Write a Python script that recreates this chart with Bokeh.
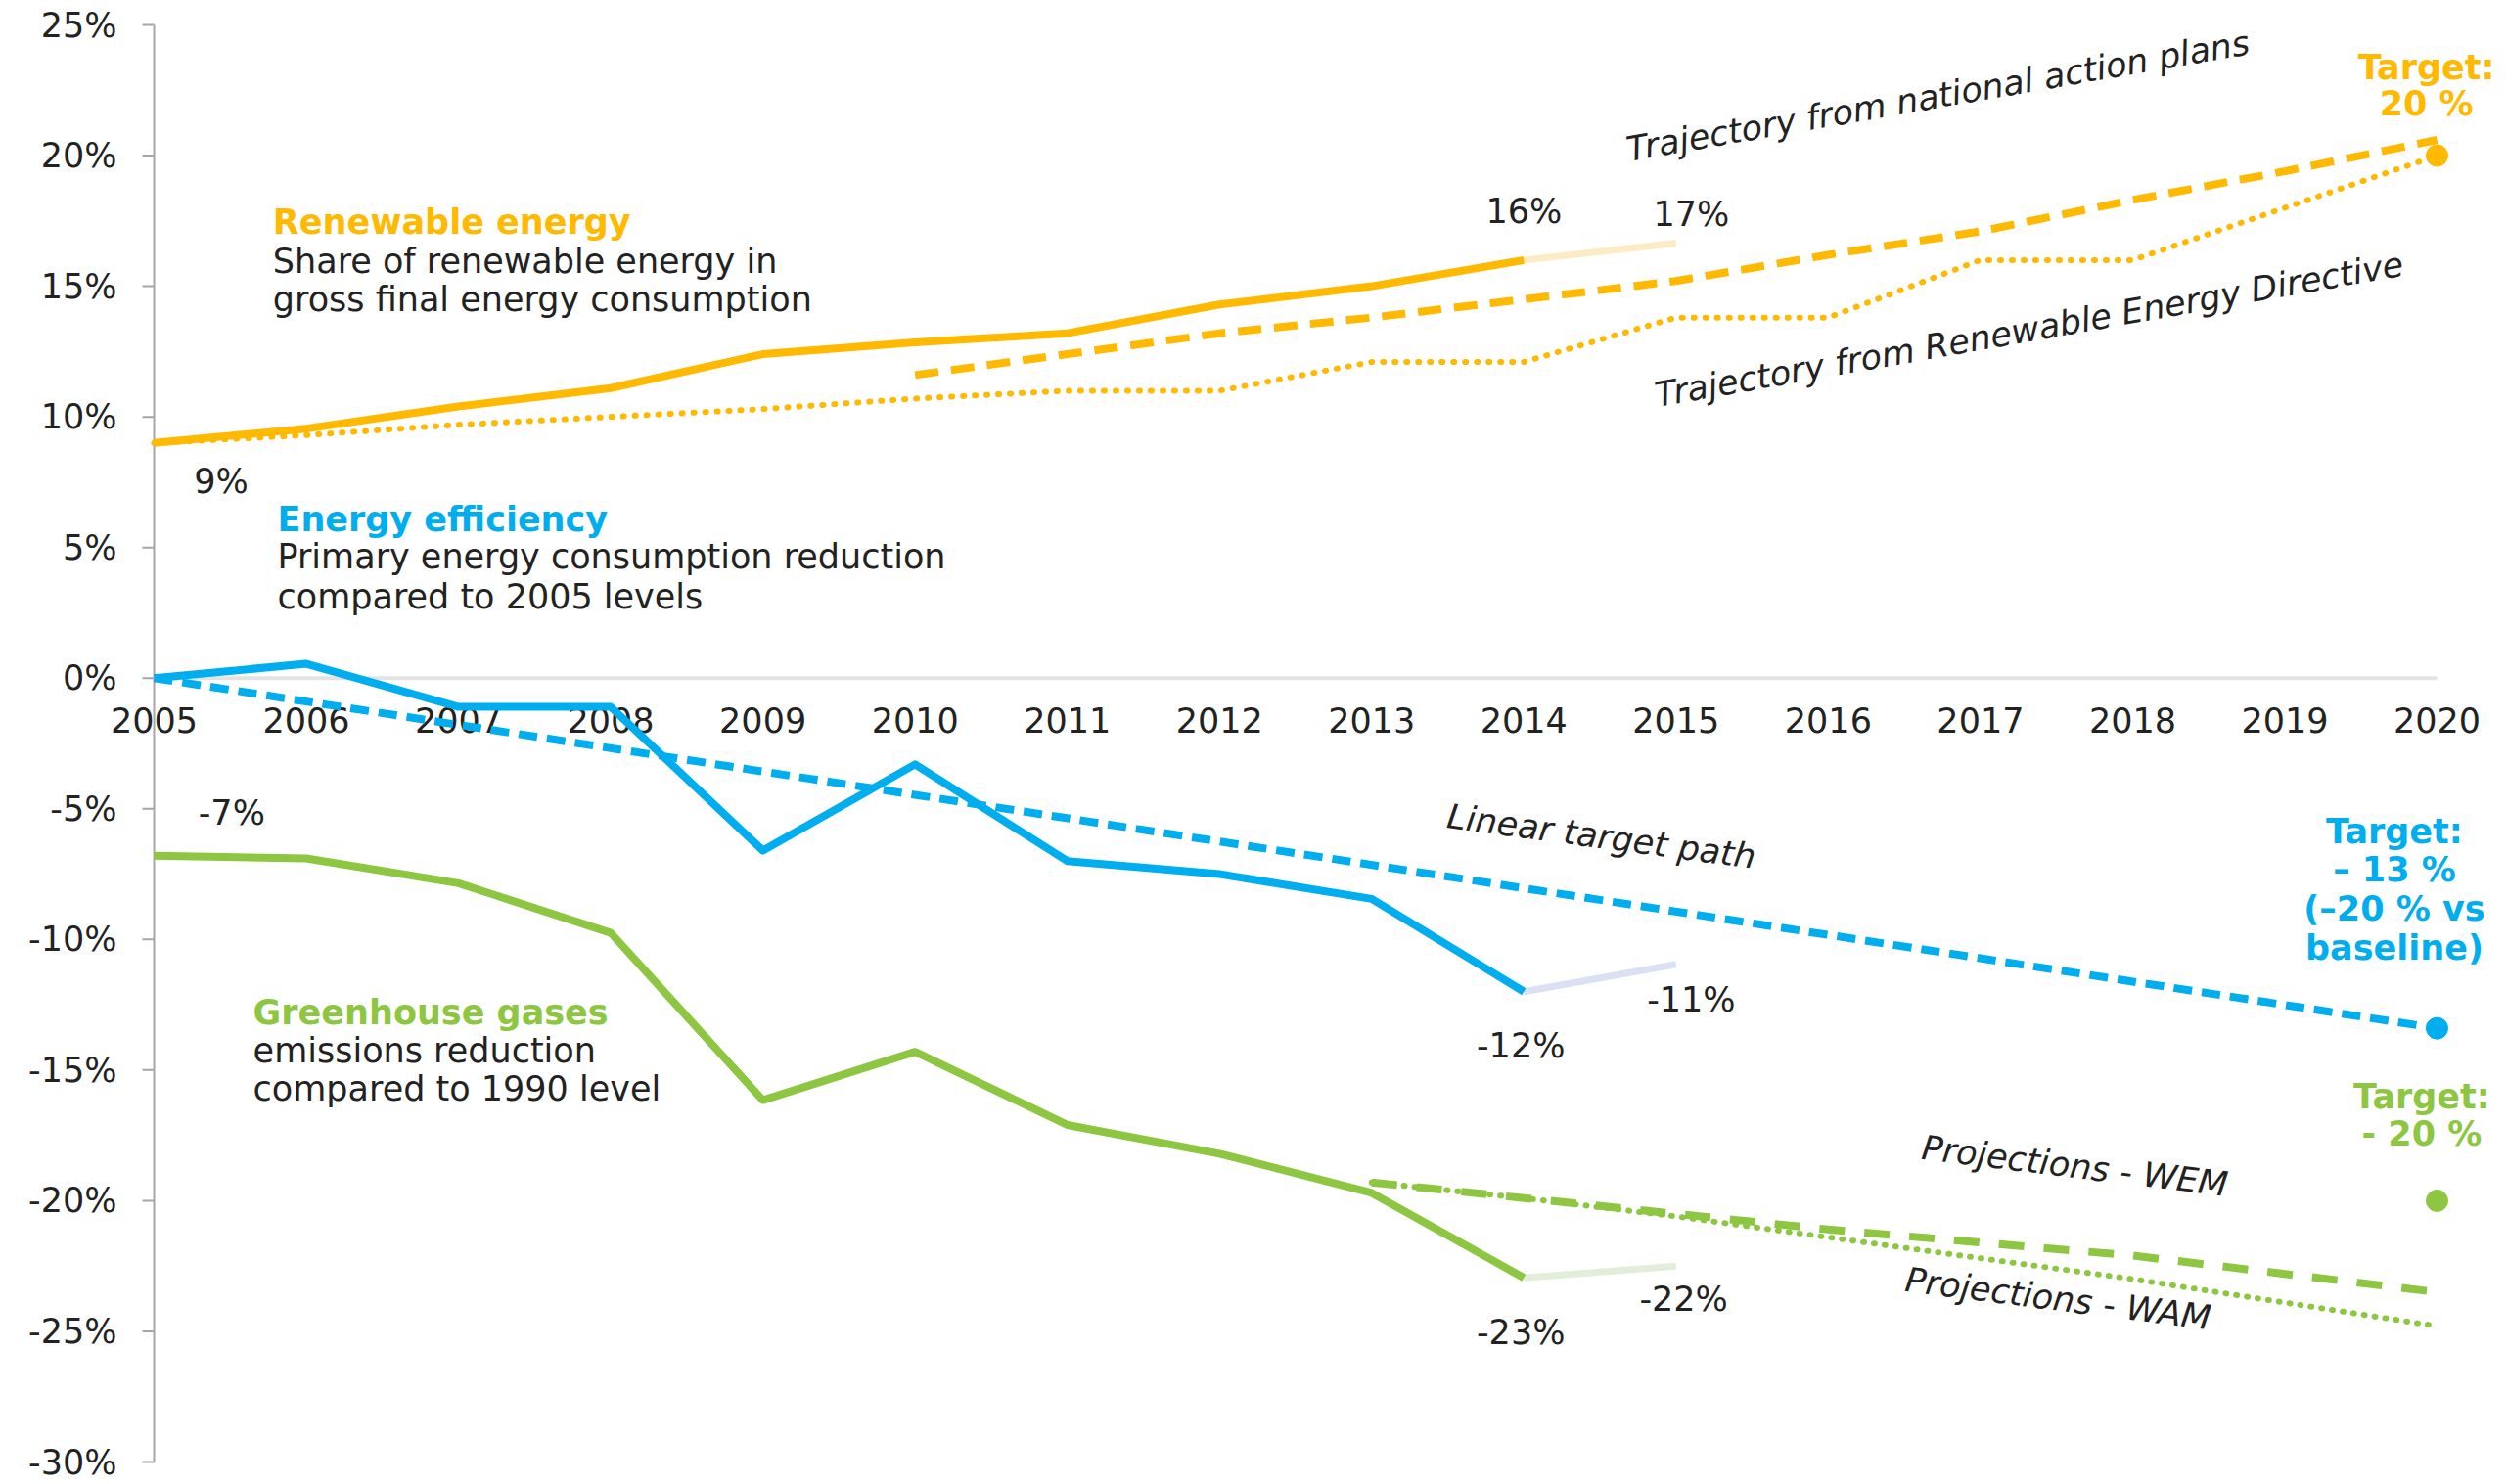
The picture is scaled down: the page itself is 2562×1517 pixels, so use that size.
import math
from bokeh.plotting import figure
from bokeh.models import Range1d, Label
from bokeh.embed import file_html
from bokeh.resources import INLINE
from bokeh.core.properties import value

# ---------------- data ----------------
years_hist = [2005, 2006, 2007, 2008, 2009, 2010, 2011, 2012, 2013, 2014]
renewable_share = [9.0, 9.55, 10.4, 11.1, 12.4, 12.85, 13.2, 14.3, 15.0, 16.0]
efficiency_change = [0.0, 0.55, -1.1, -1.1, -6.6, -3.3, -7.0, -7.5, -8.45, -12.0]
ghg_change = [-6.8, -6.9, -7.85, -9.75, -16.15, -14.3, -17.1, -18.2, -19.7, -22.95]

proxy_years = [2014, 2015]
renewable_proxy = [16.0, 16.65]
efficiency_proxy = [-12.0, -10.95]
ghg_proxy = [-22.95, -22.5]

nap_years = [2010, 2011, 2012, 2013, 2014, 2015, 2016, 2017, 2018, 2019, 2020]
nap_trajectory = [11.6, 12.4, 13.2, 13.8, 14.5, 15.2, 16.2, 17.1, 18.3, 19.4, 20.6]

red_years = [2005, 2006, 2007, 2008, 2009, 2010, 2011, 2012, 2013, 2014,
             2015, 2016, 2017, 2018, 2019, 2020]
red_trajectory = [9.0, 9.3, 9.7, 10.0, 10.3, 10.7, 11.0, 11.0, 12.1, 12.1,
                  13.8, 13.8, 16.0, 16.0, 18.0, 20.0]

linear_path_years = [2005, 2020]
linear_path = [0.0, -13.4]

proj_years = [2013, 2014, 2015, 2016, 2017, 2018, 2019, 2020]
wem_projection = [-19.3, -19.9, -20.5, -21.1, -21.6, -22.1, -22.8, -23.5]
wam_projection = [-19.3, -19.9, -20.6, -21.4, -22.2, -23.0, -23.9, -24.8]

target_year = [2020]
renewable_target = [20.0]
efficiency_target = [-13.4]
ghg_target = [-20.0]

year_ticks = list(range(2005, 2021))
year_labels = [str(y) for y in year_ticks]
y_ticks = [-30, -25, -20, -15, -10, -5, 0, 5, 10, 15, 20, 25]
y_tick_labels = [f"{t}%" for t in y_ticks]

# ---------------- style ----------------
ORANGE = "#FFB900"
ORANGE_L = "#FDEBC6"
BLUE = "#00AEEF"
BLUE_L = "#D9E1F2"
GREEN = "#8DC641"
GREEN_L = "#E2EDDA"
TXT = "#222222"
AXIS = "#A6A6A6"
FONT = "DejaVu Sans"
FS = "35px"

# frame fills the whole canvas; scales chosen so 2005 sits at x=157px,
# 2020 at x=2490px, 25% at y=25px and -30% at y=1494px
W, H = 2556, 1516
PX_PER_YEAR = (2490 - 157) / 15.0
PX_PER_PCT = (1494 - 25) / 55.0
x0 = year_ticks[0] - 157 / PX_PER_YEAR
y1 = y_ticks[-1] + 25 / PX_PER_PCT
p = figure(width=W, height=H,
           x_range=Range1d(x0, x0 + W / PX_PER_YEAR),
           y_range=Range1d(y1 - H / PX_PER_PCT, y1),
           min_border=0, x_axis_location=None, y_axis_location=None,
           title=None, output_backend="svg", toolbar_location=None)
p.outline_line_color = None
p.grid.visible = False
p.background_fill_color = "white"
p.border_fill_color = "white"

# ---- y axis (drawn with glyphs so nothing is clipped) ----
p.line([year_ticks[0]] * 2, [y_ticks[0], y_ticks[-1]], line_color=AXIS,
       line_width=2)
p.ray(x=[year_ticks[0]] * len(y_ticks), y=y_ticks, length=12,
      length_units="screen", angle=math.pi, line_color=AXIS, line_width=2)
p.text(x=[year_ticks[0]] * len(y_ticks), y=y_ticks, text=y_tick_labels,
       x_offset=-38, text_align="right", text_baseline="middle",
       text_font=value(FONT), text_font_size=FS, text_color=TXT)

# ---- zero line + year labels ----
p.line(year_ticks, [0] * len(year_ticks), line_color="#E3E3E3", line_width=4)
p.text(x=year_ticks, y=[0] * len(year_ticks), text=year_labels,
       y_offset=43, text_align="center", text_baseline="middle",
       text_font=value(FONT), text_font_size=FS, text_color=TXT)

# ---- renewable energy ----
p.line(red_years, red_trajectory, line_color=ORANGE, line_width=6,
       line_dash="1 11", line_cap="round")
p.line(nap_years, nap_trajectory, line_color=ORANGE, line_width=8,
       line_dash="24 13")
p.line(proxy_years, renewable_proxy, line_color=ORANGE_L, line_width=7)
p.line(years_hist, renewable_share, line_color=ORANGE, line_width=8,
       line_join="round")
p.scatter(target_year, renewable_target, size=22, color=ORANGE)

# ---- energy efficiency ----
p.line(linear_path_years, linear_path, line_color=BLUE, line_width=8,
       line_dash="19 10")
p.line(proxy_years, efficiency_proxy, line_color=BLUE_L, line_width=7)
p.line(years_hist, efficiency_change, line_color=BLUE, line_width=8,
       line_join="round")
p.scatter(target_year, efficiency_target, size=22, color=BLUE)

# ---- greenhouse gases ----
p.line(proj_years, wam_projection, line_color=GREEN, line_width=6,
       line_dash="1 10", line_cap="round")
p.line(proj_years, wem_projection, line_color=GREEN, line_width=8,
       line_dash="26 20")
p.line(proxy_years, ghg_proxy, line_color=GREEN_L, line_width=7)
p.line(years_hist, ghg_change, line_color=GREEN, line_width=8,
       line_join="round")
p.scatter(target_year, ghg_target, size=22, color=GREEN)


def lab(x, y, text, color=TXT, align="left", style="normal", angle=0.0):
    p.add_layout(Label(x=x, y=y, text=text, text_color=color,
                       text_font=FONT, text_font_size=FS,
                       text_font_style=style, text_align=align,
                       text_baseline="middle", angle=angle,
                       angle_units="deg"))


# category captions
lab(2005.78, 17.44, "Renewable energy", ORANGE, style="bold")
lab(2005.78, 15.97, "Share of renewable energy in")
lab(2005.78, 14.50, "gross final energy consumption")

lab(2005.81, 6.06, "Energy efficiency", BLUE, style="bold")
lab(2005.81, 4.65, "Primary energy consumption reduction")
lab(2005.81, 3.12, "compared to 2005 levels")

lab(2005.65, -12.79, "Greenhouse gases", GREEN, style="bold")
lab(2005.65, -14.26, "emissions reduction")
lab(2005.65, -15.73, "compared to 1990 level")

# value labels
lab(2005.44, 7.53, "9%", align="center")
lab(2014.0, 17.87, "16%", align="center")
lab(2015.1, 17.75, "17%", align="center")
lab(2005.51, -5.14, "-7%", align="center")
lab(2013.98, -14.08, "-12%", align="center")
lab(2015.1, -12.30, "-11%", align="center")
lab(2013.98, -25.03, "-23%", align="center")
lab(2015.05, -23.75, "-22%", align="center")

# targets
lab(2019.93, 23.38, "Target:", ORANGE, align="center", style="bold")
lab(2019.93, 21.97, "20 %", ORANGE, align="center", style="bold")
lab(2019.72, -5.88, "Target:", BLUE, align="center", style="bold")
lab(2019.72, -7.34, "\u2013 13 %", BLUE, align="center", style="bold")
lab(2019.72, -8.81, "(\u201320 % vs", BLUE, align="center", style="bold")
lab(2019.72, -10.34, "baseline)", BLUE, align="center", style="bold")
lab(2019.90, -16.03, "Target:", GREEN, align="center", style="bold")
lab(2019.90, -17.44, "- 20 %", GREEN, align="center", style="bold")

# trajectory captions
lab(2016.72, 22.28, "Trajectory from national action plans", align="center",
    style="italic", angle=9.8)
lab(2017.32, 13.34, "Trajectory from Renewable Energy Directive", align="center",
    style="italic", angle=10.0)
lab(2014.51, -6.06, "Linear target path", align="center", style="italic",
    angle=-7.6)
lab(2017.62, -18.67, "Projections - WEM", align="center", style="italic",
    angle=-7.0)
lab(2017.51, -23.75, "Projections - WAM", align="center", style="italic",
    angle=-7.2)

open("out.html", "w").write(file_html(p, INLINE))
